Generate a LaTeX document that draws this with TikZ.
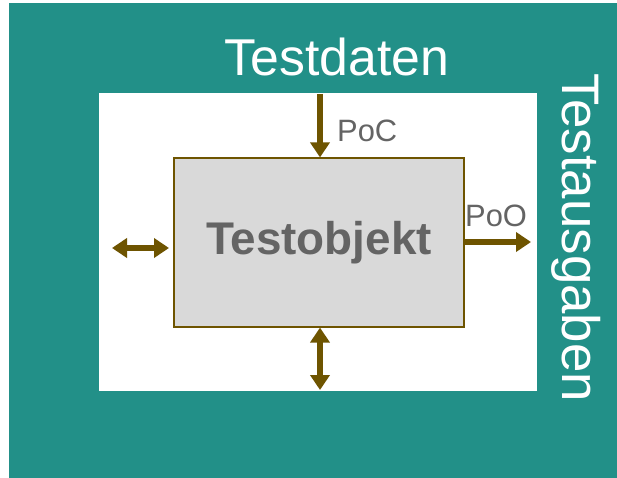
\documentclass[tikz,border=0pt]{standalone}
\usepackage{fontspec}
\setmainfont{Liberation Sans}
\usetikzlibrary{arrows.meta}
\definecolor{teal1}{RGB}{34,144,136}
\definecolor{arrowc}{RGB}{110,84,0}
\definecolor{boxgray}{RGB}{217,217,217}
\definecolor{txtgray}{RGB}{100,100,100}
\tikzset{
  conn/.style={draw=arrowc, line width=6.5bp, -{Triangle[width=19bp,length=15bp]}},
  dconn/.style={draw=arrowc, line width=6.5bp, {Triangle[width=19bp,length=15bp]}-{Triangle[width=19bp,length=15bp]}},
  lbl/.style={text=txtgray, font=\fontsize{31}{31}\selectfont, inner sep=0pt},
  big/.style={text=white, font=\fontsize{52}{52}\selectfont, inner sep=0pt}
}
\begin{document}
\begin{tikzpicture}[x=1bp,y=-1bp]
\useasboundingbox (0,0) rectangle (617,478);
\fill[teal1] (9,3) rectangle (617,478);
\fill[white] (99,93) rectangle (537,391);
\node[draw=arrowc, line width=1.2bp, fill=boxgray, minimum width=290bp, minimum height=169bp, inner sep=0pt,
  text=txtgray, font=\fontsize{46}{46}\selectfont\bfseries] (obj) at (319,242.5) {Testobjekt};
\node[big, anchor=base] (td) at (337,76) {Testdaten};
\node[big, rotate=-90, font=\fontsize{53}{53}\selectfont] (ta) at (576,237.5) {Testausgaben};
\coordinate (ctop) at (320,94);
\coordinate (cright) at (531,242);
\coordinate (cleft1) at (112,248);
\coordinate (cleft2) at (169,248);
\coordinate (cbot) at (320,390);
\draw[conn] (ctop) -- (ctop |- obj.north);
\draw[conn] (obj.east |- cright) -- (cright);
\draw[dconn] (cleft1) -- (cleft2);
\draw[dconn] (obj.south -| cbot) -- (cbot);
\node[lbl, anchor=base west] (poc) at (337,142) {PoC};
\node[lbl, anchor=base west] (poo) at (465,227) {PoO};
\end{tikzpicture}
\end{document}
